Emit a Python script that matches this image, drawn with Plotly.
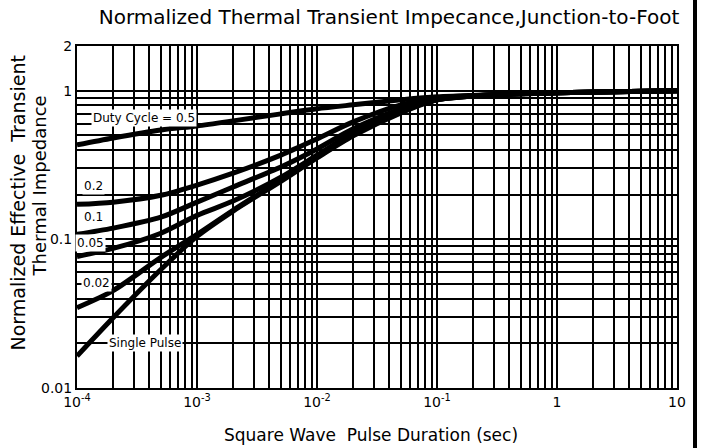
import math
import plotly.graph_objects as go

# ---- data ----
pulse_duration = [1e-4, 2e-4, 5e-4, 1e-3, 2e-3, 5e-3, 1e-2, 2e-2, 5e-2, 0.1, 0.3, 1, 3, 10]

z_duty_05 = [0.432, 0.481, 0.545, 0.580, 0.627, 0.699, 0.756, 0.804, 0.869, 0.911, 0.940, 0.969, 0.984, 1.0]
z_duty_02 = [0.172, 0.178, 0.198, 0.232, 0.279, 0.369, 0.474, 0.617, 0.804, 0.897, 0.940, 0.969, 0.984, 1.0]
z_duty_01 = [0.108, 0.119, 0.141, 0.178, 0.225, 0.307, 0.406, 0.554, 0.756, 0.883, 0.940, 0.969, 0.984, 1.0]
z_duty_005 = [0.0767, 0.0869, 0.110, 0.145, 0.181, 0.262, 0.369, 0.520, 0.733, 0.869, 0.940, 0.969, 0.984, 1.0]
z_duty_002 = [0.0347, 0.0452, 0.0756, 0.108, 0.157, 0.250, 0.358, 0.504, 0.721, 0.869, 0.940, 0.969, 0.984, 1.0]
z_single = [0.0164, 0.0297, 0.0627, 0.1047, 0.155, 0.246, 0.353, 0.497, 0.710, 0.869, 0.940, 0.969, 0.984, 1.0]

series = [
    ("Duty Cycle = 0.5", z_duty_05),
    ("0.2", z_duty_02),
    ("0.1", z_duty_01),
    ("0.05", z_duty_005),
    ("0.02", z_duty_002),
    ("Single Pulse", z_single),
]

# curve label placement (x value, y value)
label_pos = {
    "Duty Cycle = 0.5": (3.6e-4, 0.66),
    "0.2": (1.38e-4, 0.228),
    "0.1": (1.38e-4, 0.141),
    "0.05": (1.3e-4, 0.094),
    "0.02": (1.45e-4, 0.051),
    "Single Pulse": (3.7e-4, 0.0201),
}

x_decades = [1e-4, 1e-3, 1e-2, 1e-1, 1, 10]
x_ticklabels = ["10<sup>-4</sup>", "10<sup>-3</sup>", "10<sup>-2</sup>", "10<sup>-1</sup>", "1", "10"]
y_ticks_major = [0.01, 0.1, 1, 2]
y_ticklabels = ["0.01", "0.1", "1", "2"]

FONT = "DejaVu Sans, Liberation Sans, Arial, sans-serif"

# minor grid positions at every 2..9 within each decade
x_minor = [d * m for d in x_decades[:-1] for m in range(2, 10)]
y_minor = [round(d * m, 4) for d in [0.01, 0.1] for m in range(2, 10)]

fig = go.Figure()
for name, z in series:
    fig.add_trace(go.Scatter(
        x=pulse_duration, y=z, mode="lines", name=name,
        line=dict(color="black", width=5, shape="spline", smoothing=0.8),
        showlegend=False, hoverinfo="skip",
    ))

for name, (lx, ly) in label_pos.items():
    fig.add_annotation(
        x=math.log10(lx), y=math.log10(ly), xref="x", yref="y",
        text=name, showarrow=False, bgcolor="white",
        font=dict(family=FONT, size=12, color="black"), borderpad=1,
    )

fig.add_annotation(
    x=-0.098, y=0.54, xref="paper", yref="paper", textangle=-90,
    xanchor="center", yanchor="middle",
    text="Normalized Effective  Transient",
    showarrow=False, font=dict(family=FONT, size=19, color="black"),
)
fig.add_annotation(
    x=-0.063, y=0.59, xref="paper", yref="paper", textangle=-90,
    xanchor="center", yanchor="middle",
    text="Thermal Impedance",
    showarrow=False, font=dict(family=FONT, size=18, color="black"),
)
fig.add_annotation(
    x=0.49, y=-0.138, xref="paper", yref="paper",
    xanchor="center", yanchor="middle",
    text="Square Wave  Pulse Duration (sec)",
    showarrow=False, font=dict(family=FONT, size=17, color="black"),
)

fig.add_shape(type="line", xref="paper", yref="paper",
              x0=1.03, x1=1.03, y0=-0.2, y1=1.2,
              line=dict(color="black", width=4))

grid_style = dict(showgrid=True, gridcolor="black", gridwidth=1.5)

fig.update_xaxes(
    type="log", range=[-4, 1],
    tickvals=x_decades, ticktext=x_ticklabels,
    minor=dict(tickvals=x_minor, ticks="", **grid_style),
    showline=True, linecolor="black", linewidth=2, mirror=True,
    ticks="", zeroline=False, **grid_style,
    tickfont=dict(family=FONT, size=14, color="black"),
)
fig.update_yaxes(
    type="log", range=[-2, math.log10(2)],
    tickvals=y_ticks_major, ticktext=y_ticklabels,
    minor=dict(tickvals=y_minor, ticks="", **grid_style),
    showline=True, linecolor="black", linewidth=2, mirror=True,
    ticks="", zeroline=False, **grid_style,
    tickfont=dict(family=FONT, size=14, color="black"),
)

fig.update_layout(
    width=703, height=448,
    margin=dict(l=77, r=26, t=46, b=60),
    paper_bgcolor="white", plot_bgcolor="white",
    title=dict(text="Normalized Thermal Transient Impecance,Junction-to-Foot",
               x=0.52, xref="paper", xanchor="center", y=0.962, yanchor="middle",
               font=dict(family=FONT, size=20, color="black")),
    font=dict(family=FONT, color="black"),
    hovermode=False,
)

fig.write_html("out.html", config={"displayModeBar": False},
               post_script="document.body.style.margin='0px';")
